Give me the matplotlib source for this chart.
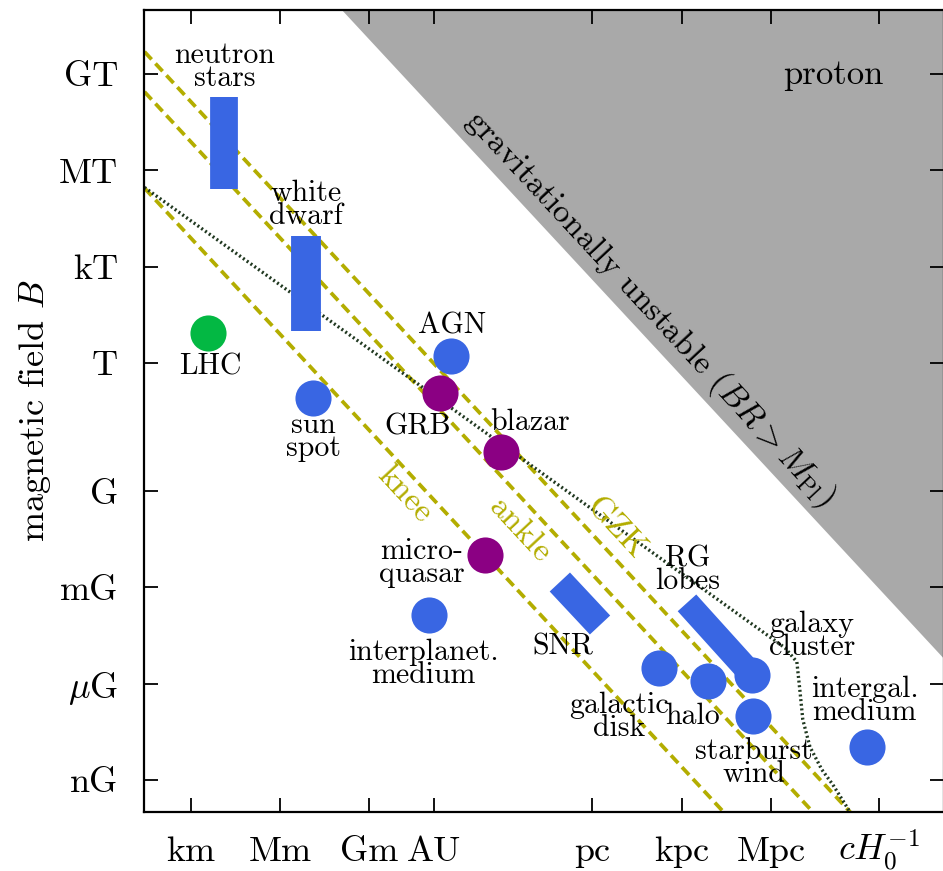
import matplotlib
matplotlib.use("Agg")
import matplotlib.pyplot as plt
import numpy as np

plt.rcParams["font.family"] = ["cmr10", "DejaVu Serif"]
plt.rcParams["mathtext.fontset"] = "cm"
plt.rcParams["axes.unicode_minus"] = False

# log10(R / m) and log10(B / G)
x_ticks = [3, 6, 9, 11.175, 16.489, 19.489, 22.489, 26.12]
x_labels = ["km", "Mm", "Gm", "AU", "pc", "kpc", "Mpc", r"$cH_0^{-1}$"]
y_ticks = [13, 10, 7, 4, 0, -3, -6, -9]
y_labels = ["GT", "MT", "kT", "T", "G", "mG", r"$\mu$G", "nG"]

# Hillas lines: log B + log R = const
hillas_names = ["knee", "ankle", "GZK"]
hillas_const = [10.9, 13.9, 15.15]
hillas_label_pos = [(10.18, -0.09), (14.06, -1.21), (17.25, -1.15)]

# gravitational instability boundary  log B + log R = const
grav_const = 23.08

# proton loss-limited curve (dotted)
proton_x = [1.45, 22.36, 22.96, 23.36, 23.46, 23.56, 23.80, 24.20, 24.57, 25.14]
proton_y = [9.47, -4.48, -4.88, -5.32, -6.19, -7.12, -7.97, -8.68, -9.15, -9.99]

# extended sources (segments)
seg_names = ["neutron stars", "white dwarf", "SNR", "RG lobes"]
seg_x = [(4.12, 4.12), (6.88, 6.88), (15.40, 16.75), (19.67, 21.85)]
seg_y = [(9.43, 12.29), (5.01, 7.97), (-2.83, -4.17), (-3.48, -5.72)]
seg_w = [20, 21.5, 20, 18]

# point sources
pt_names = ["LHC", "sun spot", "AGN", "GRB", "blazar", "micro-quasar",
            "interplanet. medium", "galaxy cluster", "galactic disk", "halo",
            "starburst wind", "intergal. medium"]
pt_x = [3.59, 7.11, 11.74, 11.37, 13.43, 12.89, 11.01, 21.85, 18.73, 20.38, 21.89, 25.71]
pt_y = [4.92, 2.92, 4.23, 3.05, 1.21, -1.99, -3.86, -5.72, -5.51, -5.91, -7.00, -7.97]
pt_kind = ["lab", "obj", "obj", "tr", "tr", "tr", "obj", "obj", "obj", "obj", "obj", "obj"]

# labels
lab_text = ["neutron\nstars", "white\ndwarf", "LHC", "sun\nspot", "AGN", "GRB", "blazar",
            "micro-\nquasar", "interplanet.\nmedium", "SNR", "RG\nlobes", "galaxy\ncluster",
            "galactic\ndisk", "halo", "starburst\nwind", "intergal.\nmedium"]
lab_x = [4.13, 6.88, 3.65, 7.11, 11.78, 10.64, 14.40, 10.77, 10.81, 15.51, 19.70,
         23.87, 17.40, 19.86, 21.92, 25.64]
lab_y = [13.22, 8.93, 3.89, 1.71, 5.16, 2.02, 2.15, -2.24, -5.38, -4.85, -2.46,
         -4.51, -7.03, -7.0, -8.46, -6.53]

colors = {"obj": "#3966e3", "tr": "#8b0083", "lab": "#03b843"}
olive = "#b3ad00"

fig = plt.figure(figsize=(9.43, 8.71), dpi=100)
ax = fig.add_axes([0.1532, 0.0677, 0.8478, 0.9208])
xmin, xmax, ymin, ymax = 1.45, 28.3, -10, 15
ax.set_xlim(xmin, xmax)
ax.set_ylim(ymin, ymax)

xs = np.array([xmin, xmax])
ax.fill_between(xs, grav_const - xs, ymax, color="#a9a9a9", lw=0, zorder=1)

for c in hillas_const:
    ax.plot(xs, c - xs, color=olive, lw=2.7, dashes=(2.8, 1.5), zorder=2)

ax.plot(proton_x, proton_y, color="#203820", lw=2.4, ls=(0, (0.6, 0.8)), zorder=2)

for sx, sy, w in zip(seg_x, seg_y, seg_w):
    ax.plot(sx, sy, color=colors["obj"], lw=w, solid_capstyle="butt", zorder=3)

for x, y, k in zip(pt_x, pt_y, pt_kind):
    ax.plot(x, y, "o", ms=26, color=colors[k], mec="none", zorder=4)

for t, x, y in zip(lab_text, lab_x, lab_y):
    ax.text(x, y, t, fontsize=21.5, ha="center", va="center", linespacing=0.8, zorder=5)

# angle of the slope -1 lines on screen
fig.canvas.draw()
p0 = ax.transData.transform((10, 0))
p1 = ax.transData.transform((11, -1))
ang = np.degrees(np.arctan2(p1[1] - p0[1], p1[0] - p0[0]))

for name, (x, y) in zip(hillas_names, hillas_label_pos):
    ax.text(x, y, name, fontsize=24, color=olive, rotation=ang,
            rotation_mode="anchor", ha="center", va="center", zorder=5)

ax.text(18.43, 5.72, r"gravitationally unstable $(BR > M_{\rm Pl})$", fontsize=24,
        rotation=ang, rotation_mode="anchor", ha="center", va="center", zorder=5)
ax.text(24.57, 12.97, "proton", fontsize=25, ha="center", va="center", zorder=5)

ax.set_xticks(x_ticks)
ax.set_xticklabels(x_labels)
ax.set_yticks(y_ticks)
ax.set_yticklabels(y_labels)
ax.tick_params(direction="in", length=10, width=1.3, labelsize=26,
               top=True, right=True)
ax.tick_params(axis="x", pad=35)
ax.tick_params(axis="y", pad=19)
for lbl in ax.get_xticklabels():
    lbl.set_verticalalignment("baseline")
ax.set_ylabel(r"magnetic field $B$", fontsize=26, labelpad=4)
for s in ax.spines.values():
    s.set_linewidth(1.6)

fig.savefig("out.png", dpi=100)
